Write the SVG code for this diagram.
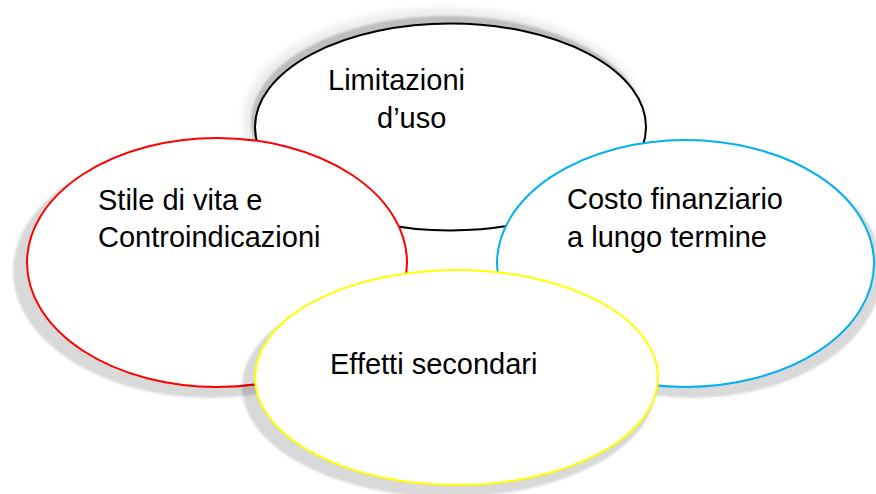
<svg xmlns="http://www.w3.org/2000/svg" width="876" height="494" viewBox="0 0 876 494">
<defs>
<filter id="blur" x="-20%" y="-20%" width="140%" height="140%"><feGaussianBlur stdDeviation="3"/></filter>
<filter id="soft" x="-10%" y="-10%" width="120%" height="120%"><feGaussianBlur stdDeviation="1"/></filter>
</defs>
<style>
.shadow{fill:#000;fill-opacity:0.15;filter:url(#soft)}
.shape{fill:#fff;stroke-width:2}
.lbl{font-family:"Liberation Sans",Arial,sans-serif;font-size:29px;fill:#000}
</style>
<rect width="876" height="494" fill="#fff"/>
<g id="node-limitazioni">
<ellipse cx="444" cy="119" rx="201" ry="111" fill="#000" fill-opacity="0.07" filter="url(#blur)"/>
<ellipse cx="447" cy="122" rx="196" ry="106" fill="#000" fill-opacity="0.2" filter="url(#soft)"/>
<ellipse class="shape" cx="450.5" cy="127" rx="195.5" ry="103.5" stroke="#000"/>
<text class="lbl" x="328" y="90">Limitazioni</text>
<text class="lbl" x="377" y="128">d’uso</text>
</g>
<g id="node-stile">
<ellipse class="shadow" cx="210" cy="271" rx="197" ry="127"/>
<ellipse class="shape" cx="217" cy="262.5" rx="190" ry="124.5" stroke="#ff0000"/>
<text class="lbl" x="98" y="210">Stile di vita e</text>
<text class="lbl" x="98" y="247">Controindicazioni</text>
</g>
<g id="node-costo">
<ellipse class="shadow" cx="693" cy="271" rx="189" ry="127"/>
<ellipse class="shape" cx="685.5" cy="263.5" rx="188.5" ry="123.5" stroke="#00b0f0"/>
<text class="lbl" x="567" y="209">Costo finanziario</text>
<text class="lbl" x="567" y="247">a lungo termine</text>
</g>
<g id="node-effetti">
<ellipse class="shadow" cx="449" cy="387" rx="207" ry="110"/>
<ellipse class="shape" cx="456.5" cy="377.5" rx="201.5" ry="107.5" stroke="#ffff00"/>
<text class="lbl" x="330" y="374">Effetti secondari</text>
</g>
</svg>
